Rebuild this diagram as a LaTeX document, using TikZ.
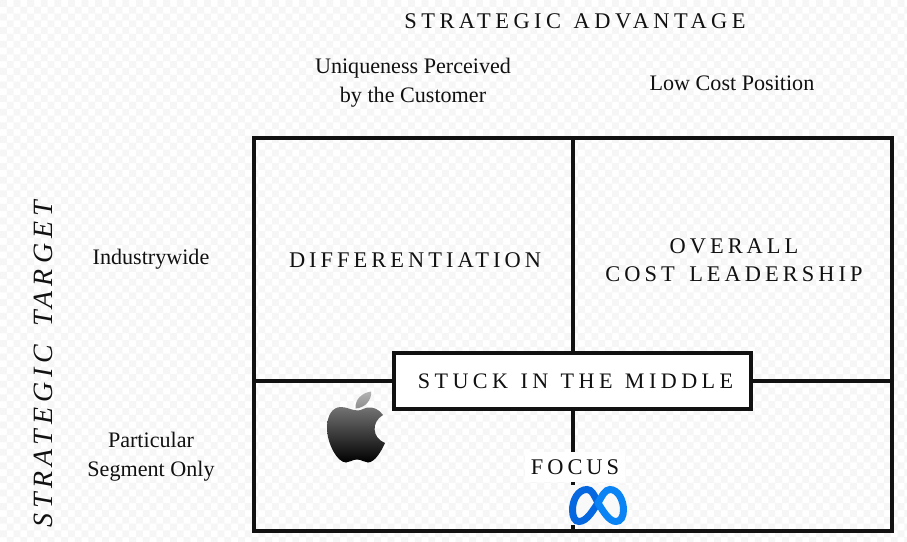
\documentclass[tikz,border=0pt]{standalone}
\usepackage{fontspec}
\setmainfont{Liberation Serif}
\newfontfamily\capsA[LetterSpace=20,WordSpace=1.25]{Liberation Serif}
\newfontfamily\capsB[LetterSpace=18,WordSpace=1.5]{Liberation Serif}
\newfontfamily\capsI[LetterSpace=18,WordSpace=1.5,ItalicFont={Liberation Serif Italic}]{Liberation Serif}
\definecolor{chk}{HTML}{F6F6F6}
\definecolor{ink}{HTML}{111111}
\definecolor{metaL}{HTML}{0668E1}
\definecolor{metaR}{HTML}{0A84F5}
\tikzset{
  gridline/.style={draw=ink,line width=3.7pt,line cap=rect},
  axislabel/.style={text=ink,font=\fontsize{22.2}{29}\selectfont,align=center,inner sep=0pt},
  quadlabel/.style={text=ink,font=\capsB\fontsize{22.5}{28}\selectfont,align=center,inner sep=0pt},
}
\begin{document}
\begin{tikzpicture}[x=1bp,y=-1bp]
\useasboundingbox (0,0) rectangle (907,542);
\fill[white] (0,0) rectangle (907,542);
\fill[chk]
  \foreach \i in {0,...,66}{\foreach \j in {0,...,40}{
    (\i*13.6,\j*13.6) rectangle ++(6.8,6.8)
    (\i*13.6+6.8,\j*13.6+6.8) rectangle ++(6.8,6.8)
  }};
% grid
\coordinate (tl) at (254,138);
\coordinate (br) at (892,531);
\coordinate (vt) at (573,138);
\coordinate (vb) at (573,531);
\coordinate (hl) at (254,381);
\coordinate (hr) at (892,381);
\draw[gridline] (vt) -- (vb);
\draw[gridline] (hl) -- (hr);
\draw[gridline] (tl) rectangle (br);
% stuck box
\node[draw=ink,line width=3.7pt,fill=white,minimum width=357bp,minimum height=56bp,inner sep=0pt] (stuck) at (572.5,381) {};
\node[text=ink,inner sep=0pt,font=\capsA\fontsize{22.2}{24}\selectfont] (stucktext) at (575.5,381) {STUCK IN THE MIDDLE};
% labels
\node[text=ink,inner sep=0pt,font=\capsA\fontsize{22.5}{24}\selectfont] (adv) at (575,21) {STRATEGIC ADVANTAGE};
\node[axislabel] (uniq) at (413,82.5) {Uniqueness Perceived\\by the Customer};
\node[axislabel] (low) at (732,83) {Low Cost Position};
\node[axislabel] (ind) at (151,259) {Industrywide};
\node[axislabel] (seg) at (151,456.5) {Particular\\Segment Only};
\node[rotate=90,text=ink,inner sep=0pt,font=\capsI\itshape\fontsize{28}{30}\selectfont] (target) at (43,364.5) {STRATEGIC TARGET};
\node[quadlabel] (diff) at (415,260) {DIFFERENTIATION};
\node[quadlabel] (cost) at (734,260) {OVERALL\\COST LEADERSHIP};
\node[fill=white,inner xsep=6bp,inner ysep=7bp,text=ink,font=\capsB\fontsize{22.5}{24}\selectfont] (focus) at (575,467) {FOCUS};
% apple logo
\shade[top color=black!55,bottom color=black]
  (358,410.5) .. controls (352,410.5) and (347,407) .. (341,407)
  .. controls (332,407) and (327,416) .. (327,428)
  .. controls (327,443) and (337,462.5) .. (346,462.5)
  .. controls (350,462.5) and (352,459.5) .. (357,459.5)
  .. controls (362,459.5) and (364,462.5) .. (368,462.5)
  .. controls (375,462.5) and (382,450) .. (385,443)
  .. controls (372,438) and (371,422) .. (383,415)
  .. controls (379,409) and (373,407) .. (368,407.5)
  .. controls (364,408) and (361,410.5) .. (358,410.5) -- cycle;
\shade[top color=black!30,bottom color=black!45]
  (355.5,408.5) .. controls (355,399) and (362,393) .. (371,391.5)
  .. controls (372,400) and (365,408) .. (355.5,408.5) -- cycle;
% meta logo
\fill[chk!70!white] (568,485) rectangle (629,525);
\draw[metaL,line width=7pt,line cap=round]
  (598,503) .. controls (594,495) and (592,489.5) .. (587,489.5)
  .. controls (578,489.5) and (572.5,500) .. (572.5,510)
  .. controls (572.5,517) and (575,521.5) .. (579,521.5)
  .. controls (587,521.5) and (593,510) .. (598,503);
\draw[metaR,line width=7pt,line cap=round]
  (598,503) .. controls (602,496) and (605,489.5) .. (610,489.5)
  .. controls (618,489.5) and (623.5,500) .. (623.5,510)
  .. controls (623.5,517) and (620.5,521.5) .. (616,521.5)
  .. controls (609,521.5) and (603,511) .. (598,503);
\end{tikzpicture}
\end{document}
